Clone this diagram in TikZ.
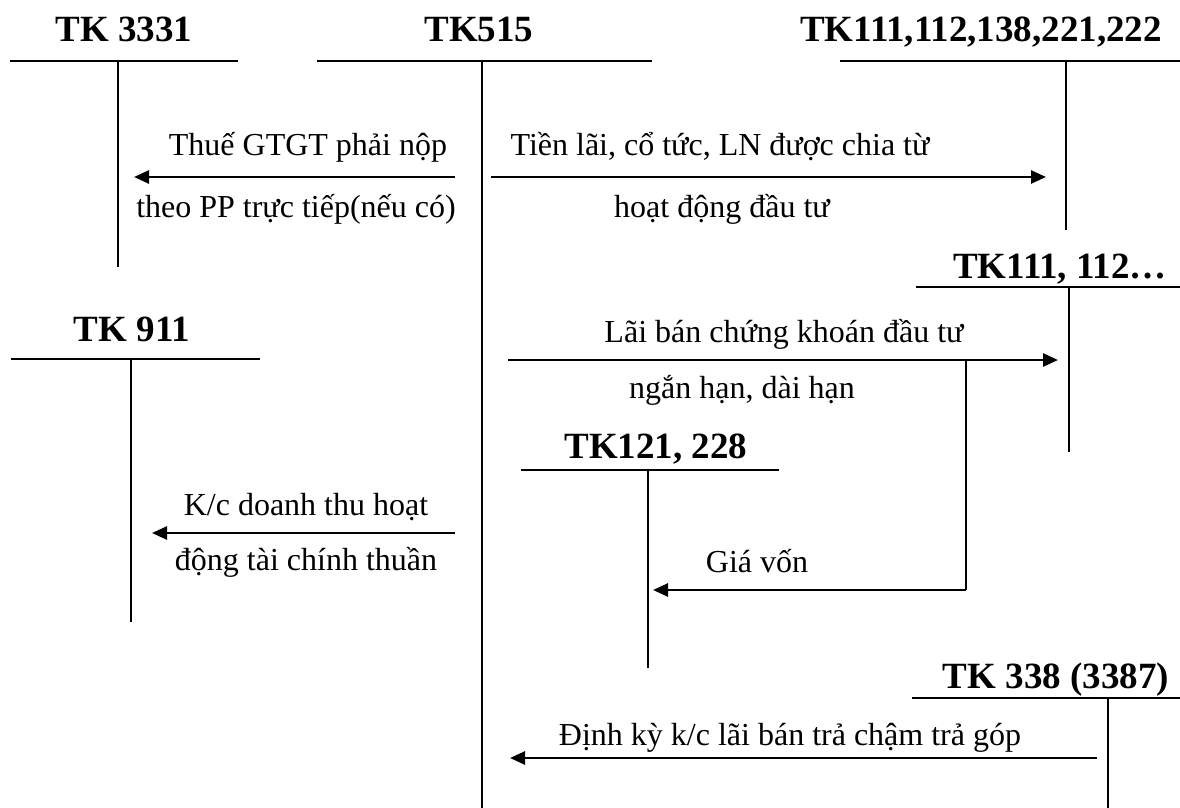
\documentclass[tikz,border=0pt]{standalone}
\usepackage{fontspec}
\setmainfont{Liberation Serif}
\usetikzlibrary{arrows.meta}
\tikzset{
  acct/.style={font=\fontsize{37}{44}\selectfont\bfseries, anchor=base, inner sep=0pt},
  lbl/.style={font=\fontsize{32}{38}\selectfont, anchor=base, inner sep=0pt},
  tline/.style={line width=1.8pt},
  flow/.style={line width=2.6pt, -{Triangle[length=15pt,width=13pt]}},
  seg/.style={line width=2.6pt},
}
\begin{document}
\begin{tikzpicture}[x=1pt,y=-1pt]
\useasboundingbox (0,0) rectangle (1180,808);

% T-accounts: title, horizontal rule, vertical rule
\node[acct] (t3331) at (124,42) {TK 3331};
\coordinate (h3331a) at (10,61);  \coordinate (h3331b) at (238,61);
\coordinate (v3331a) at (118,61); \coordinate (v3331b) at (118,267);
\draw[tline] (h3331a) -- (h3331b) (v3331a) -- (v3331b);

\node[acct] (t515) at (479,42) {TK515};
\coordinate (h515a) at (317,61);  \coordinate (h515b) at (652,61);
\coordinate (v515a) at (482,61);  \coordinate (v515b) at (482,808);
\draw[tline] (h515a) -- (h515b) (v515a) -- (v515b);

\node[acct] (t111) at (981,42) {TK111,112,138,221,222};
\coordinate (h111a) at (840,61);  \coordinate (h111b) at (1180,61);
\coordinate (v111a) at (1066,61); \coordinate (v111b) at (1066,230);
\draw[tline] (h111a) -- (h111b) (v111a) -- (v111b);

\node[acct] (t111b) at (1060,278) {TK111, 112\ldots};
\coordinate (h111ba) at (916,287);  \coordinate (h111bb) at (1180,287);
\coordinate (v111ba) at (1069,287); \coordinate (v111bb) at (1069,452);
\draw[tline] (h111ba) -- (h111bb) (v111ba) -- (v111bb);

\node[acct] (t911) at (132,341) {TK 911};
\coordinate (h911a) at (11,359);  \coordinate (h911b) at (260,359);
\coordinate (v911a) at (131,359); \coordinate (v911b) at (131,622);
\draw[tline] (h911a) -- (h911b) (v911a) -- (v911b);

\node[acct] (t121) at (656,458) {TK121, 228};
\coordinate (h121a) at (521,470);  \coordinate (h121b) at (779,470);
\coordinate (v121a) at (648,470);  \coordinate (v121b) at (648,668);
\draw[tline] (h121a) -- (h121b) (v121a) -- (v121b);

\node[acct] (t338) at (1056,688) {TK 338 (3387)};
\coordinate (h338a) at (912,698);  \coordinate (h338b) at (1180,698);
\coordinate (v338a) at (1108,698); \coordinate (v338b) at (1108,808);
\draw[tline] (h338a) -- (h338b) (v338a) -- (v338b);

% Flows
\coordinate (a1s) at (455,177); \coordinate (a1e) at (134,177);
\draw[flow] (a1s) -- (a1e);
\node[lbl] (l1a) at (308,155) {Thuế GTGT phải nộp};
\node[lbl] (l1b) at (296,217) {theo PP trực tiếp(nếu có)};

\coordinate (a2s) at (491,177); \coordinate (a2e) at (1046,177);
\draw[flow] (a2s) -- (a2e);
\node[lbl] (l2a) at (720,155) {Tiền lãi, cổ tức, LN được chia từ};
\node[lbl] (l2b) at (722,217) {hoạt động đầu tư};

\coordinate (a3s) at (508,360); \coordinate (a3e) at (1058,360);
\draw[flow] (a3s) -- (a3e);
\node[lbl] (l3a) at (784,342) {Lãi bán chứng khoán đầu tư};
\node[lbl] (l3b) at (742,398) {ngắn hạn, dài hạn};

\coordinate (b1) at (966,360); \coordinate (b2) at (966,590); \coordinate (b3) at (653,590);
\draw[seg] (b1) -- (b2);
\draw[flow] (b2) -- (b3);
\node[lbl] (l4) at (757,572) {Giá vốn};

\coordinate (a5s) at (455,533); \coordinate (a5e) at (152,533);
\draw[flow] (a5s) -- (a5e);
\node[lbl] (l5a) at (306,515) {K/c doanh thu hoạt};
\node[lbl] (l5b) at (306,570) {động tài chính thuần};

\coordinate (a6s) at (1097,758); \coordinate (a6e) at (510,758);
\draw[flow] (a6s) -- (a6e);
\node[lbl] (l6) at (790,745) {Định kỳ k/c lãi bán trả chậm trả góp};
\end{tikzpicture}
\end{document}
